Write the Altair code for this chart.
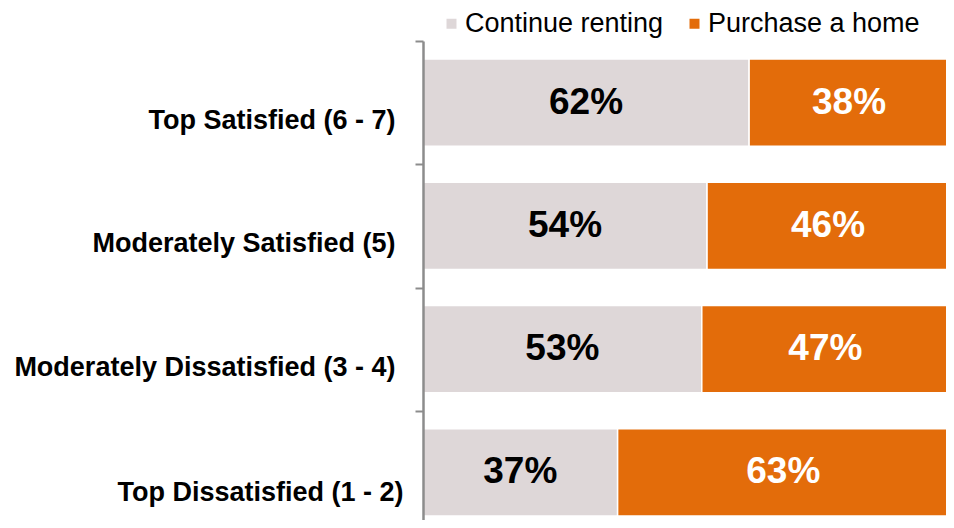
import altair as alt
import pandas as pd

categories = ["Top Satisfied (6 - 7)", "Moderately Satisfied (5)",
              "Moderately Dissatisfied (3 - 4)", "Top Dissatisfied (1 - 2)"]
series = ["Continue renting", "Purchase a home"]
continue_renting = [62, 54, 53, 37]
purchase_home = [38, 46, 47, 63]
colors = ["#DED7D8", "#E36C0A"]
text_colors = ["#000000", "#FFFFFF"]

rows = []
for i, c in enumerate(categories):
    rows.append({"cat": c, "series": series[0], "val": continue_renting[i], "ord": 0, "tc": text_colors[0]})
    rows.append({"cat": c, "series": series[1], "val": purchase_home[i], "ord": 1, "tc": text_colors[1]})
df = pd.DataFrame(rows)

FONT = "Liberation Sans"
STEP = 493 / 4
last_test = "datum.value == '" + categories[-1] + "'"

base = alt.Chart(df).transform_stack(
    stack="val", groupby=["cat"], as_=["x0", "x1"], sort=[alt.SortField("ord", order="ascending")]
).transform_calculate(
    mid="(datum.x0 + datum.x1) / 2", label="datum.val + '%'"
)

yenc = alt.Y("cat:N", sort=categories, title=None,
             scale=alt.Scale(paddingInner=0.294, paddingOuter=0.147, range=[0, 493]),
             axis=alt.Axis(tickOffset=-STEP / 2,
                           labelOffset={"condition": {"test": last_test, "value": 20 + STEP / 2},
                                        "value": 18 + STEP / 2},
                           labelPadding={"condition": {"test": last_test, "value": 12},
                                         "value": 20},
                           labelFontSize=27,
                           labelFontWeight="bold", labelColor="#000000", labelFont=FONT,
                           labelLimit=500, tickSize=8, tickColor="#8C8C8C",
                           tickWidth=2, domainColor="#8C8C8C", domainWidth=2.5, grid=False,
                           zindex=1))

xscale = alt.Scale(domain=[0, 100], range=[0, 526])

bars = base.mark_bar(stroke="white", strokeWidth=1.5).encode(
    y=yenc,
    x=alt.X("x0:Q", scale=xscale, axis=None),
    x2="x1:Q",
    color=alt.Color("series:N", sort=series,
                    scale=alt.Scale(domain=series, range=colors),
                    legend=alt.Legend(title=None, orient="none", direction="horizontal",
                                      legendX=15, legendY=-31, symbolType="square",
                                      symbolSize=100, symbolStrokeWidth=0,
                                      labelFontSize=27, labelFont=FONT, labelColor="#000000",
                                      labelLimit=500, columnPadding=17, labelOffset=0,
                                      padding=0)),
)

texts = base.mark_text(fontSize=37, fontWeight="bold", font=FONT, baseline="middle").encode(
    y=alt.Y("cat:N", sort=categories),
    x=alt.X("mid:Q", scale=xscale),
    text="label:N",
    color=alt.Color("tc:N", scale=None),
)

chart = alt.layer(bars, texts).properties(
    width=523, height=479,
    autosize=alt.AutoSizeParams(type="none"),
    padding={"left": 415, "top": 33, "right": 0, "bottom": 0},
).configure_view(stroke=None)

chart.save("out.html", embed_options={"renderer": "svg", "actions": False})
